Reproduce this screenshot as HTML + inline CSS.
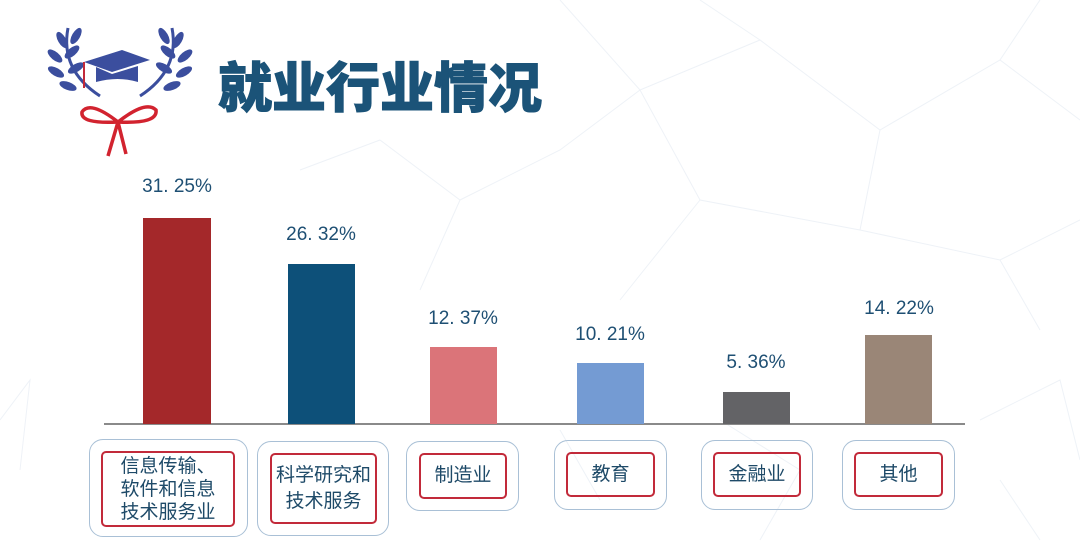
<!DOCTYPE html>
<html><head><meta charset="utf-8"><style>
body{margin:0;width:1080px;height:554px;background:#fff;position:relative;overflow:hidden;font-family:"Liberation Sans","Noto Sans CJK SC",sans-serif;}
.a{position:absolute}
.bar{position:absolute}
.val{position:absolute;width:140px;text-align:center;font-size:19px;color:#1e4f73;}
.ob{position:absolute;border:1.5px solid #a9c0d6;border-radius:14px;box-sizing:border-box}
.ib{position:absolute;border:2px solid #c22a3a;border-radius:5px;box-sizing:border-box;display:flex;align-items:center;justify-content:center;text-align:center;font-size:19px;line-height:26px;color:#1e4a68;}
</style></head><body>
<svg class="a" style="left:0;top:0" width="1080" height="554">
<g stroke="#eef2f7" stroke-width="1" fill="none">
<path d="M560 0 L640 90 L760 40 L880 130 L1000 60 L1080 120 M640 90 L700 200 L860 230 L880 130 M700 200 L620 300 M860 230 L1000 260 L1080 220 M1000 60 L1040 0 M700 0 L760 40 M380 140 L460 200 L560 150 L640 90 M460 200 L420 290 M300 170 L380 140 M980 420 L1060 380 L1080 460 M1000 480 L1040 540 M0 420 L30 380 L20 470 M720 420 L800 470 L760 540 M560 430 L600 500 M1000 260 L1040 330"/>
</g>
<g fill="#3b4e9e">
<path d="M100 96 Q60 70 68 28" stroke="#3b4e9e" stroke-width="3" fill="none"/>
<path d="M140 96 Q180 70 172 28" stroke="#3b4e9e" stroke-width="3" fill="none"/>
<ellipse cx="62" cy="40" rx="4" ry="9" transform="rotate(-30 62 40)"/><ellipse cx="76" cy="36" rx="4" ry="9" transform="rotate(30 76 36)"/>
<ellipse cx="55" cy="56" rx="4" ry="9" transform="rotate(-50 55 56)"/><ellipse cx="72" cy="52" rx="4" ry="9" transform="rotate(50 72 52)"/>
<ellipse cx="56" cy="72" rx="4" ry="9" transform="rotate(-60 56 72)"/><ellipse cx="76" cy="68" rx="4" ry="9" transform="rotate(60 76 68)"/>
<ellipse cx="68" cy="86" rx="4" ry="9" transform="rotate(-70 68 86)"/>
<ellipse cx="178" cy="40" rx="4" ry="9" transform="rotate(30 178 40)"/><ellipse cx="164" cy="36" rx="4" ry="9" transform="rotate(-30 164 36)"/>
<ellipse cx="185" cy="56" rx="4" ry="9" transform="rotate(50 185 56)"/><ellipse cx="168" cy="52" rx="4" ry="9" transform="rotate(-50 168 52)"/>
<ellipse cx="184" cy="72" rx="4" ry="9" transform="rotate(60 184 72)"/><ellipse cx="164" cy="68" rx="4" ry="9" transform="rotate(-60 164 68)"/>
<ellipse cx="172" cy="86" rx="4" ry="9" transform="rotate(70 172 86)"/>
<polygon points="84,62 122,50 150,60 112,72"/>
<path d="M96 67 L96 82 Q118 76 138 82 L138 66 L112 74 Z"/>
</g>
<path d="M84 62 L84 88" stroke="#c22a3a" stroke-width="2"/>
<g stroke="#d2232f" stroke-width="3.5" fill="none">
<path d="M118 122 Q90 100 82 112 Q80 124 118 122 Q146 100 156 110 Q158 124 118 122 L108 156 M118 122 L126 154"/>
</g>
<line x1="104" y1="424" x2="965" y2="424" stroke="#8a8a8a" stroke-width="2"/>
</svg>
<div class="a" style="left:218px;top:52px;font-size:54px;font-weight:900;color:#1b5378;font-family:'Noto Sans CJK SC',sans-serif;line-height:64px;-webkit-text-stroke:1px #1b5378">就业行业情况</div>

<div class="bar" style="left:143px;top:218px;width:68px;height:206px;background:#a4282a"></div>
<div class="bar" style="left:288px;top:264px;width:67px;height:160px;background:#0d5079"></div>
<div class="bar" style="left:430px;top:347px;width:67px;height:77px;background:#db7479"></div>
<div class="bar" style="left:577px;top:363px;width:67px;height:61px;background:#749bd3"></div>
<div class="bar" style="left:723px;top:392px;width:67px;height:32px;background:#636366"></div>
<div class="bar" style="left:865px;top:335px;width:67px;height:89px;background:#9a8677"></div>

<div class="val" style="left:107px;top:176px">31. 25%</div>
<div class="val" style="left:251px;top:224px">26. 32%</div>
<div class="val" style="left:393px;top:308px">12. 37%</div>
<div class="val" style="left:540px;top:324px">10. 21%</div>
<div class="val" style="left:686px;top:352px">5. 36%</div>
<div class="val" style="left:829px;top:298px">14. 22%</div>

<div class="ob" style="left:89px;top:439px;width:159px;height:98px"></div>
<div class="ib" style="left:101px;top:451px;width:134px;height:76px;line-height:23px">信息传输、<br>软件和信息<br>技术服务业</div>
<div class="ob" style="left:257px;top:441px;width:132px;height:95px"></div>
<div class="ib" style="left:270px;top:453px;width:107px;height:71px">科学研究和<br>技术服务</div>
<div class="ob" style="left:406px;top:441px;width:113px;height:70px"></div>
<div class="ib" style="left:419px;top:453px;width:88px;height:46px">制造业</div>
<div class="ob" style="left:554px;top:440px;width:113px;height:70px"></div>
<div class="ib" style="left:566px;top:452px;width:89px;height:45px">教育</div>
<div class="ob" style="left:701px;top:440px;width:112px;height:70px"></div>
<div class="ib" style="left:713px;top:452px;width:88px;height:45px">金融业</div>
<div class="ob" style="left:842px;top:440px;width:113px;height:70px"></div>
<div class="ib" style="left:854px;top:452px;width:89px;height:45px">其他</div>
</body></html>
